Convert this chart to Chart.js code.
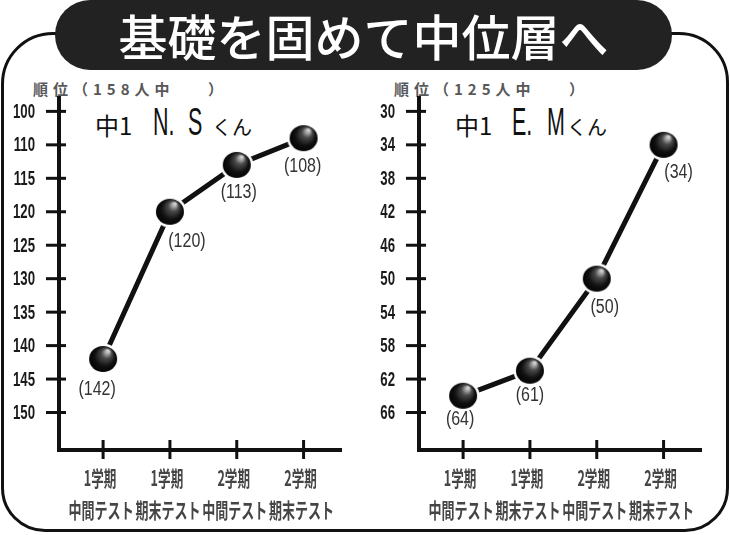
<!DOCTYPE html>
<html>
<head>
<meta charset="utf-8">
<script src="https://cdn.jsdelivr.net/npm/chart.js@4.4.1/dist/chart.umd.min.js"></script>
<style>
  body { margin: 0; width: 730px; height: 535px; background: #fff; position: relative; overflow: hidden;
         font-family: "Noto Sans CJK JP", sans-serif; }
  #frame { position: absolute; left: 1px; top: 32px; width: 728px; height: 500px; box-sizing: border-box;
           border: 3px solid #111; border-radius: 52px 50px 44px 44px; }
  #pill { position: absolute; left: 55px; top: 0; width: 617px; height: 70px; background: #222; border-radius: 35px;
          color: #fff; font-size: 49px; font-weight: 500; text-align: center; line-height: 70px; }
  .cv { position: absolute; top: 75px; width: 360px; height: 455px; }
  .head { position: absolute; top: 78px; font-size: 15px; font-weight: bold; color: #585858; letter-spacing: 5px; white-space: pre; }
  .name { position: absolute; top: 100px; display: flex; align-items: baseline; color: #111; white-space: pre; }
  .name > div { white-space: nowrap; }
  .name .k { font-size: 24px; }
  .name .r { font-family: "Liberation Sans", sans-serif; font-size: 39px; }
  .name .r span { display: inline-block; transform: scaleX(0.55); transform-origin: 0 50%; }
  .name .s { font-size: 20px; }
</style>
</head>
<body>
<div id="frame"></div>
<div id="pill">基礎を固めて中位層へ</div>

<div class="head" style="left:33px">順位（158人中</div>
<div class="head" style="left:208px">）</div>
<div class="head" style="left:394px">順位（125人中</div>
<div class="head" style="left:569px">）</div>

<div class="name" style="left:95px">
  <div class="k" style="width:58px">中1</div>
  <div class="r" style="width:35px"><span>N.</span></div>
  <div class="r" style="width:24px"><span>S</span></div>
  <div class="s">くん</div>
</div>
<div class="name" style="left:455px">
  <div class="k" style="width:57px">中1</div>
  <div class="r" style="width:35px"><span>E.</span></div>
  <div class="r" style="width:20px"><span>M</span></div>
  <div class="s">くん</div>
</div>

<canvas id="chartNS" class="cv" style="left:0" width="360" height="455"></canvas>
<canvas id="chartEM" class="cv" style="left:360px" width="360" height="455"></canvas>

<script>
const terms = ['1学期', '1学期', '2学期', '2学期'];
const tests = ['中間テスト', '期末テスト', '中間テスト', '期末テスト'];

const nsRanks = [142, 120, 113, 108];
const emRanks = [64, 61, 50, 34];

const nsTicks = [100, 110, 115, 120, 125, 130, 135, 140, 145, 150];
const emTicks = [30, 34, 38, 42, 46, 50, 54, 58, 62, 66];

// rank axis: stops are evenly spaced, values in between are interpolated
class RankScale extends Chart.LinearScale {
    static id = 'rankStops';
    static defaults = { ticks: { callback: v => String(v) } };

    determineDataLimits() {
        const s = this.options.stops;
        this.min = s[0];
        this.max = s[s.length - 1];
    }
    buildTicks() {
        return this.options.stops.map(v => ({ value: v }));
    }
    toIndex(v) {
        const s = this.options.stops;
        let i = 0;
        while (i < s.length - 2 && v > s[i + 1]) i++;
        return i + (v - s[i]) / (s[i + 1] - s[i]);
    }
    getPixelForValue(v) {
        const n = this.options.stops.length;
        const lo = -0.4, hi = n - 1 + 1.12;
        return this.getPixelForDecimal((this.toIndex(v) - lo) / (hi - lo));
    }
    getValueForPixel(p) {
        const s = this.options.stops;
        const lo = -0.4, hi = s.length - 1 + 1.12;
        const f = lo + this.getDecimalForPixel(p) * (hi - lo);
        const i = Math.max(0, Math.min(s.length - 2, Math.floor(f)));
        return s[i] + (f - i) * (s[i + 1] - s[i]);
    }
}
Chart.register(RankScale);

function makeBall() {
    const c = document.createElement('canvas');
    c.width = 34;
    c.height = 32;
    const g = c.getContext('2d');
    g.fillStyle = '#fff';
    g.beginPath();
    g.ellipse(17, 16, 16.5, 15.5, 0, 0, Math.PI * 2);
    g.fill();
    const grad = g.createRadialGradient(22, 8, 1, 17, 16, 15);
    grad.addColorStop(0, '#d0d0d0');
    grad.addColorStop(0.3, '#4a4a4a');
    grad.addColorStop(0.65, '#111');
    grad.addColorStop(1, '#000');
    g.fillStyle = grad;
    g.beginPath();
    g.ellipse(17, 16, 14, 13, 0, 0, Math.PI * 2);
    g.fill();
    return c;
}
const ball = makeBall();

// condensed text, like the narrow print face of the original
function narrowText(ctx, text, x, y, sx) {
    ctx.save();
    ctx.translate(x, y);
    ctx.scale(sx, 1);
    ctx.fillText(text, 0, 0);
    ctx.restore();
}

const crossTicks = {
    id: 'crossTicks',
    beforeDatasetsDraw(chart) {
        const { ctx, chartArea, scales } = chart;
        ctx.save();
        ctx.strokeStyle = '#111';
        ctx.lineWidth = 3;
        scales.y.ticks.forEach((t, i) => {
            const p = scales.y.getPixelForTick(i);
            ctx.beginPath();
            ctx.moveTo(chartArea.left - 13, p);
            ctx.lineTo(chartArea.left + 7, p);
            ctx.stroke();
        });
        scales.x.ticks.forEach((t, i) => {
            const p = scales.x.getPixelForTick(i);
            ctx.beginPath();
            ctx.moveTo(p, chartArea.bottom - 10);
            ctx.lineTo(p, chartArea.bottom + 9);
            ctx.stroke();
        });

        ctx.textBaseline = 'middle';
        ctx.fillStyle = '#1a1a1a';
        ctx.textAlign = 'right';
        ctx.font = 'bold 20px "Liberation Sans", sans-serif';
        scales.y.ticks.forEach((t, i) => {
            narrowText(ctx, String(t.value), chartArea.left - 24, scales.y.getPixelForTick(i) + 1, 0.66);
        });

        ctx.textAlign = 'center';
        ctx.fillStyle = '#454545';
        ctx.font = 'bold 21px "Noto Sans CJK JP", sans-serif';
        scales.x.ticks.forEach((t, i) => {
            const p = scales.x.getPixelForTick(i);
            narrowText(ctx, terms[t.value], p - 3, chartArea.bottom + 28, 0.6);
            narrowText(ctx, tests[t.value], p - 2, chartArea.bottom + 60, 0.62);
        });
        ctx.restore();
    }
};

const rankLabels = {
    id: 'rankLabels',
    afterDatasetsDraw(chart, args, opts) {
        const { ctx } = chart;
        const meta = chart.getDatasetMeta(0);
        const data = chart.data.datasets[0].data;
        ctx.save();
        ctx.font = '20px "Liberation Sans", sans-serif';
        ctx.fillStyle = '#333';
        ctx.textAlign = 'center';
        ctx.textBaseline = 'middle';
        meta.data.forEach((pt, i) => {
            const [dx, dy] = opts.offsets[i];
            narrowText(ctx, '(' + data[i].y + ')', pt.x + dx, pt.y + dy, 0.8);
        });
        ctx.restore();
    }
};

function makeChart(id, ranks, stops, offsets) {
    return new Chart(document.getElementById(id), {
        type: 'line',
        data: {
            datasets: [{
                data: ranks.map((v, i) => ({ x: i, y: v })),
                borderColor: '#111',
                borderWidth: 5,
                pointStyle: ball,
                pointRadius: 14,
                tension: 0
            }]
        },
        options: {
            responsive: false,
            animation: false,
            layout: { padding: { left: 0, right: 12, top: 23, bottom: 0 } },
            plugins: {
                legend: { display: false },
                tooltip: { enabled: false },
                rankLabels: { offsets: offsets }
            },
            scales: {
                x: {
                    type: 'linear',
                    min: -0.66,
                    max: 3.56,
                    afterBuildTicks: s => { s.ticks = terms.map((_, i) => ({ value: i })); },
                    afterFit: s => { s.height = 80; },
                    grid: { display: false, drawTicks: false },
                    border: { display: true, color: '#111', width: 4 },
                    ticks: { display: false }
                },
                y: {
                    type: 'rankStops',
                    stops: stops,
                    reverse: true,
                    afterFit: s => { s.width = 59; },
                    grid: { display: false, drawTicks: false },
                    border: { display: true, color: '#111', width: 4 },
                    ticks: { display: false }
                }
            }
        },
        plugins: [crossTicks, rankLabels]
    });
}

makeChart('chartNS', nsRanks, nsTicks, [[-6, 30], [17, 30], [2, 28], [-1, 28]]);
makeChart('chartEM', emRanks, emTicks, [[-3, 24], [0, 25], [8, 29], [15, 28]]);
</script>
</body>
</html>
